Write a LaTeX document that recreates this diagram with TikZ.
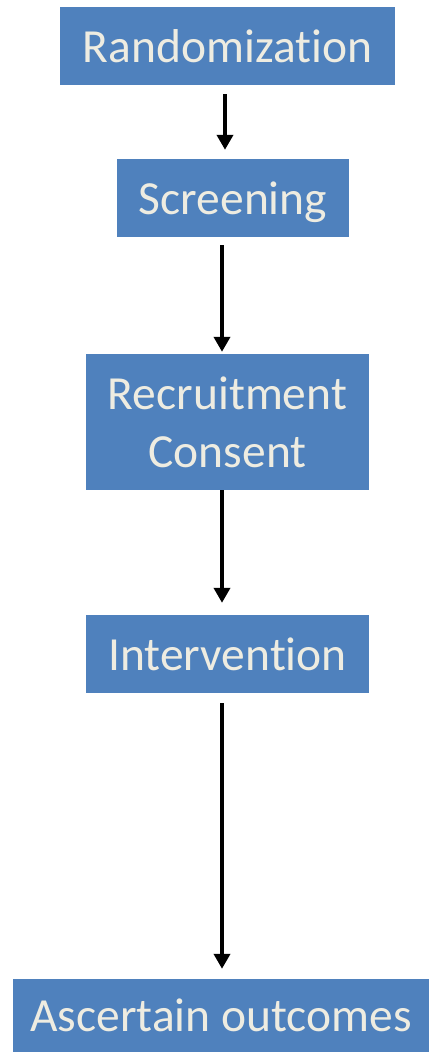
\documentclass[tikz,border=0pt]{standalone}
\usepackage{fontspec}
\setmainfont{Carlito}[Ligatures={NoCommon}]
\usetikzlibrary{arrows.meta}

\definecolor{boxblue}{HTML}{4F81BD}
\definecolor{boxtext}{HTML}{EEECE1}

\tikzset{
  stage/.style={rectangle,fill=boxblue,text=boxtext,inner sep=0pt,
    font=\fontsize{47.5}{58}\selectfont,align=center,
    text height=32pt,text depth=0pt},
  flow/.style={-{Triangle[width=16pt,length=15pt]},line width=4.5pt}
}

\begin{document}
\begin{tikzpicture}[x=1pt,y=-1pt]
    \useasboundingbox (0,0) rectangle (429,1052);
    \node[stage,minimum width=335pt,minimum height=78pt] (R) at (227.5,46) {Randomization};
    \node[stage,minimum width=232pt,minimum height=78pt] (S) at (233,198) {Screening};
    \node[stage,minimum width=283pt,minimum height=136pt,text height=90pt] (C) at (227.5,422) {Recruitment\\Consent};
    \node[stage,minimum width=283pt,minimum height=78pt] (I) at (227.5,654) {Intervention};
    \node[stage,minimum width=416pt,minimum height=73pt] (A) at (221,1015.5) {Ascertain outcomes};
    \draw[flow] ([xshift=-2.5pt,yshift=-9pt]R.south) -- ([xshift=-8pt,yshift=9pt]S.north);
    \draw[flow] ([xshift=-11pt,yshift=-8pt]S.south) -- ([xshift=-5.5pt,yshift=2pt]C.north);
    \draw[flow] ([xshift=-5.5pt]C.south) -- ([xshift=-5.5pt,yshift=12pt]I.north);
    \draw[flow] ([xshift=-5.5pt,yshift=-10pt]I.south) -- ([xshift=1pt,yshift=10pt]A.north);
  \end{tikzpicture}
\end{document}
